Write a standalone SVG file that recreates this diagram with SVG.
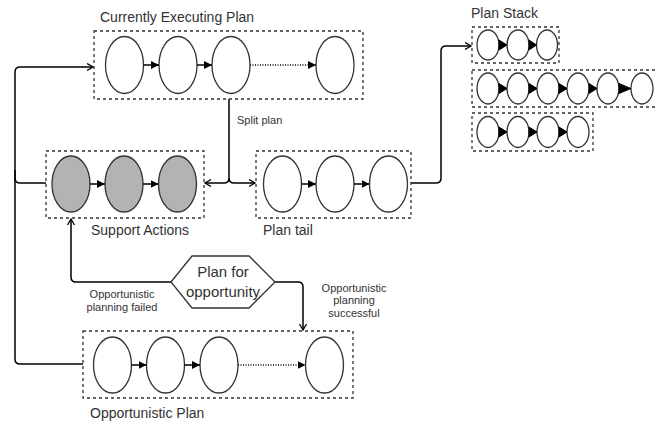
<svg xmlns="http://www.w3.org/2000/svg" width="657" height="429" viewBox="0 0 657 429">
<defs>
<style>
.box{fill:none;stroke:#333;stroke-width:1.3;stroke-dasharray:3,3}
.el{fill:#fff;stroke:#333;stroke-width:1.3}
.gray{fill:#b3b3b3}
.ch{stroke:#000;stroke-width:1.5;fill:none}
.dot{stroke:#000;stroke-width:1.5;fill:none;stroke-dasharray:1,1.5}
.con{stroke:#000;stroke-width:1.5;fill:none}
.tri{fill:#000;stroke:#000;stroke-width:1}
.t{font-family:"Liberation Sans",Arial,sans-serif;fill:#333}
.big{font-size:14px}
.sm{font-size:11px}
</style>
<marker id="fa" markerWidth="10" markerHeight="10" refX="8" refY="4" orient="auto" markerUnits="userSpaceOnUse">
<path d="M0,0 L8,4 L0,8 Z" fill="#000"/>
</marker>
<marker id="oa" markerWidth="10" markerHeight="10" refX="6" refY="4" orient="auto" markerUnits="userSpaceOnUse">
<path d="M0,0.5 L6,4 L0,7.5" fill="none" stroke="#000" stroke-width="1.3"/>
</marker>
</defs>

<g id="connectors">
<path class="con" d="M83,364 H20 Q15,364 15,359 V72 Q15,67 20,67 H93" marker-end="url(#oa)"/>
<path class="con" d="M46,183 H20 Q15,183 15,178 V170"/>
<path class="con" d="M229,99 V178 Q229,183 224,183 H205" marker-end="url(#oa)"/>
<path class="con" d="M229,178 Q229,183 234,183 H255" marker-end="url(#oa)"/>
<path class="con" d="M411,183 H436 Q441,183 441,178 V51 Q441,46 446,46 H471" marker-end="url(#oa)"/>
<path class="con" d="M171,282 H76 Q71,282 71,277 V219" marker-end="url(#oa)"/>
<path class="con" d="M275,282 H298 Q303,282 303,287 V330" marker-end="url(#oa)"/>
<text class="t sm" x="237" y="124">Split plan</text>
<text class="t sm" text-anchor="middle" x="122" y="298">Opportunistic</text>
<text class="t sm" text-anchor="middle" x="122" y="311">planning failed</text>
<text class="t sm" text-anchor="middle" x="354" y="292">Opportunistic</text>
<text class="t sm" text-anchor="middle" x="354" y="304">planning</text>
<text class="t sm" text-anchor="middle" x="354" y="317">successful</text>
</g>

<g id="current-plan">
<text class="t big" x="100" y="22">Currently Executing Plan</text>
<rect class="box" x="94" y="31" width="269" height="68"/>
<ellipse class="el" cx="124.5" cy="65" rx="19" ry="28.5"/>
<ellipse class="el" cx="178" cy="65" rx="19" ry="28.5"/>
<ellipse class="el" cx="231" cy="65" rx="19" ry="28.5"/>
<ellipse class="el" cx="335" cy="65" rx="19" ry="28.5"/>
<line class="ch" x1="143.5" y1="65" x2="159" y2="65" marker-end="url(#fa)"/>
<line class="ch" x1="197" y1="65" x2="212" y2="65" marker-end="url(#fa)"/>
<line class="dot" x1="250" y1="65" x2="316" y2="65" marker-end="url(#fa)"/>
</g>

<g id="support-actions">
<rect class="box" x="46" y="151" width="158" height="67"/>
<ellipse class="el gray" cx="71" cy="184" rx="19" ry="28"/>
<ellipse class="el gray" cx="124" cy="184" rx="19" ry="28"/>
<ellipse class="el gray" cx="177.5" cy="184" rx="19" ry="28"/>
<line class="ch" x1="90" y1="184" x2="105" y2="184" marker-end="url(#fa)"/>
<line class="ch" x1="143" y1="184" x2="158.5" y2="184" marker-end="url(#fa)"/>
<text class="t big" x="91" y="235">Support Actions</text>
</g>

<g id="plan-tail">
<rect class="box" x="256" y="151" width="155" height="67"/>
<ellipse class="el" cx="282.5" cy="184" rx="19" ry="28"/>
<ellipse class="el" cx="335" cy="184" rx="19" ry="28"/>
<ellipse class="el" cx="388.5" cy="184" rx="19" ry="28"/>
<line class="ch" x1="301.5" y1="184" x2="316" y2="184" marker-end="url(#fa)"/>
<line class="ch" x1="354" y1="184" x2="369.5" y2="184" marker-end="url(#fa)"/>
<text class="t big" x="263" y="235">Plan tail</text>
</g>

<g id="plan-stack">
<text class="t big" x="471" y="18">Plan Stack</text>
<rect class="box" x="472" y="27" width="87" height="36"/>
<ellipse class="el" cx="488" cy="45" rx="11" ry="15"/>
<ellipse class="el" cx="518" cy="45" rx="11" ry="15"/>
<ellipse class="el" cx="547" cy="45" rx="10.5" ry="15"/>
<polygon class="tri" points="499,40 507,45 499,50"/>
<polygon class="tri" points="529,40 536.5,45 529,50"/>

<rect class="box" x="472" y="70" width="190" height="37"/>
<ellipse class="el" cx="488" cy="88.5" rx="11" ry="15.5"/>
<ellipse class="el" cx="518" cy="88.5" rx="11" ry="15.5"/>
<ellipse class="el" cx="548" cy="88.5" rx="11" ry="15.5"/>
<ellipse class="el" cx="578" cy="88.5" rx="11" ry="15.5"/>
<ellipse class="el" cx="608" cy="88.5" rx="11" ry="15.5"/>
<ellipse class="el" cx="642" cy="88.5" rx="11" ry="15.5"/>
<polygon class="tri" points="499,83.5 507,88.5 499,93.5"/>
<polygon class="tri" points="529,83.5 537,88.5 529,93.5"/>
<polygon class="tri" points="559,83.5 567,88.5 559,93.5"/>
<polygon class="tri" points="589,83.5 597,88.5 589,93.5"/>
<polygon class="tri" points="619,83.5 631,88.5 619,93.5"/>

<rect class="box" x="472" y="113" width="121" height="38"/>
<ellipse class="el" cx="488" cy="132" rx="11" ry="15.5"/>
<ellipse class="el" cx="518" cy="132" rx="11" ry="15.5"/>
<ellipse class="el" cx="548" cy="132" rx="11" ry="15.5"/>
<ellipse class="el" cx="578" cy="132" rx="11" ry="15.5"/>
<polygon class="tri" points="499,127 507,132 499,137"/>
<polygon class="tri" points="529,127 537,132 529,137"/>
<polygon class="tri" points="559,127 567,132 559,137"/>
</g>

<g id="plan-for-opportunity">
<polygon points="171,282 192,256 249,256 275,282 249,308 192,308" fill="#fff" stroke="#333" stroke-width="1.3"/>
<text class="t" font-size="15" text-anchor="middle" x="223" y="277">Plan for</text>
<text class="t" font-size="15" text-anchor="middle" x="223" y="297">opportunity</text>
</g>

<g id="opportunistic-plan">
<rect class="box" x="83" y="331" width="270" height="67"/>
<ellipse class="el" cx="112.5" cy="365" rx="19" ry="28"/>
<ellipse class="el" cx="165.5" cy="365" rx="19" ry="28"/>
<ellipse class="el" cx="219" cy="365" rx="19" ry="28"/>
<ellipse class="el" cx="324.5" cy="365" rx="19" ry="28"/>
<line class="ch" x1="131.5" y1="365" x2="146.5" y2="365" marker-end="url(#fa)"/>
<line class="ch" x1="184.5" y1="365" x2="200" y2="365" marker-end="url(#fa)"/>
<line class="dot" x1="238" y1="365" x2="305.5" y2="365" marker-end="url(#fa)"/>
<text class="t big" x="90" y="418">Opportunistic Plan</text>
</g>
</svg>
